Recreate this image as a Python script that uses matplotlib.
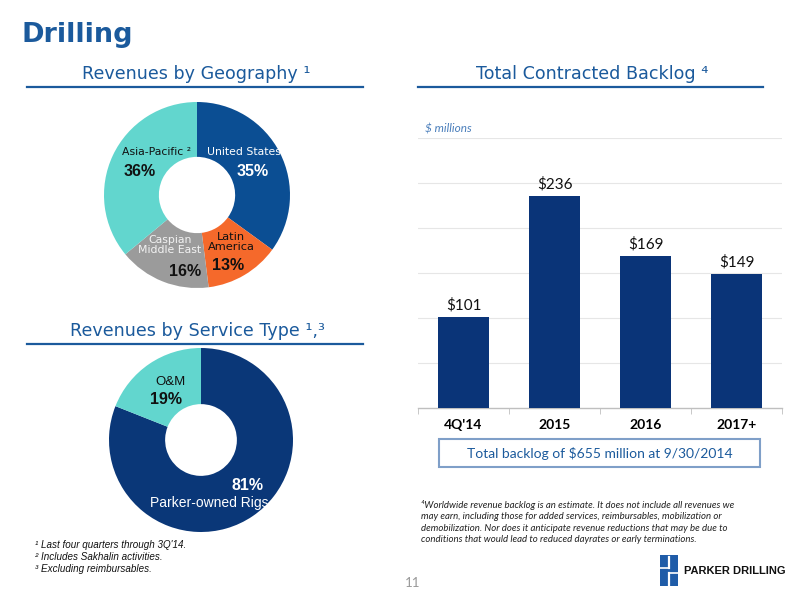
import numpy as np
import matplotlib
matplotlib.use("Agg")
import matplotlib.pyplot as plt
from matplotlib.lines import Line2D
from matplotlib.patches import Rectangle

# --- data ---
geo_labels = ["United States", "Latin America", "Caspian Middle East", "Asia-Pacific"]
geo_values = [35, 13, 16, 36]
geo_colors = ["#0B4E93", "#F5692B", "#9B9B9B", "#62D6CE"]

service_labels = ["Parker-owned Rigs", "O&M"]
service_values = [81, 19]
service_colors = ["#0A3778", "#62D6CE"]

backlog_periods = ["4Q'14", "2015", "2016", "2017+"]
backlog_values = [101, 236, 169, 149]

W, H = 800, 600
BLUE = "#1B5A9C"


def fx(x):
    return x / W


def fy(y):
    return 1 - y / H


def px_axes(fig, left, top, right, bottom):
    return fig.add_axes([fx(left), fy(bottom), (right - left) / W, (bottom - top) / H])


def ftext(fig, x, y, s, **kw):
    kw.setdefault("ha", "center")
    kw.setdefault("va", "center")
    return fig.text(fx(x), fy(y), s, **kw)


def hline(fig, x0, x1, y, color=BLUE, lw=1.6):
    fig.add_artist(Line2D([fx(x0), fx(x1)], [fy(y), fy(y)], color=color, lw=lw,
                          transform=fig.transFigure))


fig = plt.figure(figsize=(8, 6), dpi=100)

# --- headings ---
ftext(fig, 22, 35, "Drilling", ha="left", fontsize=19.5, fontweight="bold", color=BLUE,
      family="DejaVu Sans")
ftext(fig, 196, 74, "Revenues by Geography \u00b9", fontsize=12.6, color=BLUE)
hline(fig, 27, 363, 87)
ftext(fig, 592, 74, "Total Contracted Backlog \u2074", fontsize=12.6, color=BLUE)
hline(fig, 418, 763, 87)
ftext(fig, 197, 331, "Revenues by Service Type \u00b9,\u00b3", fontsize=12.6, color=BLUE)
hline(fig, 27, 363, 344)

# --- geography donut ---
ax1 = px_axes(fig, 104, 102, 290, 288)
ax1.pie(geo_values, colors=geo_colors, startangle=90, counterclock=False, radius=1,
        wedgeprops=dict(width=0.59, edgecolor="none"))
ax1.set_xlim(-1, 1)
ax1.set_ylim(-1, 1)
ax1.set_aspect("equal")
ax1.axis("off")

name_kw = dict(fontsize=7.8, family="DejaVu Sans")
pct_kw = dict(fontsize=11.5, fontweight="bold", family="Liberation Sans")
ftext(fig, 244, 152, "United States", color="white", **name_kw)
ftext(fig, 253, 172, "35%", color="white", **pct_kw)
ftext(fig, 157, 152, "Asia-Pacific \u00b2", color="#111111", **name_kw)
ftext(fig, 140, 172, "36%", color="#111111", **pct_kw)
ftext(fig, 231, 242, "Latin\nAmerica", color="#111111", linespacing=1.1,
      fontsize=8.2, family="DejaVu Sans")
ftext(fig, 228, 266, f"{geo_values[1]}%", color="#111111", **pct_kw)
ftext(fig, 170, 245, "Caspian\nMiddle East", color="#F2F2F2", linespacing=1.1, **name_kw)
ftext(fig, 185, 272, f"{geo_values[2]}%", color="#111111", **pct_kw)

# --- service donut ---
ax2 = px_axes(fig, 109, 348, 293, 532)
ax2.pie(service_values, colors=service_colors, startangle=90, counterclock=False, radius=1,
        wedgeprops=dict(width=0.61, edgecolor="none"))
ax2.set_xlim(-1, 1)
ax2.set_ylim(-1, 1)
ax2.set_aspect("equal")
ax2.axis("off")

ftext(fig, 170, 382, "O&M", color="#111111", fontsize=9.5, family="Liberation Sans")
ftext(fig, 166, 400, f"{service_values[1]}%", color="#111111", **pct_kw)
ftext(fig, 248, 486, f"{service_values[0]}%", color="white", **pct_kw)
ftext(fig, 209, 503, "Parker-owned Rigs", color="white", fontsize=10, family="Liberation Sans")

# --- backlog bar chart ---
ax3 = px_axes(fig, 418, 138, 782, 408)
x = np.arange(len(backlog_periods))
bars = ax3.bar(x, backlog_values, width=0.55, color="#0A3478", zorder=3)
ax3.set_xlim(-0.5, len(backlog_periods) - 0.5)
ax3.set_ylim(0, 300)
ax3.set_yticks(np.arange(50, 301, 50))
ax3.yaxis.grid(True, color="#E6E6E6", lw=0.8, zorder=0)
ax3.tick_params(axis="y", left=False, labelleft=False)
for s in ["top", "right", "left"]:
    ax3.spines[s].set_visible(False)
ax3.spines["bottom"].set_color("#BFBFBF")
ax3.spines["bottom"].set_linewidth(1.0)
ax3.set_xticks(x)
ax3.set_xticklabels(backlog_periods, fontsize=10, fontweight="bold", family="Lato")
ax3.set_xticks(np.arange(-0.5, len(backlog_periods)), minor=True)
ax3.tick_params(axis="x", which="major", length=0, pad=8)
ax3.tick_params(axis="x", which="minor", length=4, color="#BFBFBF", direction="out")
for b, v in zip(bars, backlog_values):
    ax3.annotate(f"${v}", (b.get_x() + b.get_width() / 2, v), xytext=(0, 3),
                 textcoords="offset points", ha="center", va="bottom",
                 fontsize=11, family="Lato", color="#111111")

ftext(fig, 425, 129, "$ millions", ha="left", fontsize=8.5, style="italic",
      color="#4A7EBB", family="Lato")

fig.add_artist(Rectangle((fx(439), fy(467)), (760 - 439) / W, (467 - 439) / H,
                         transform=fig.transFigure, fill=False, edgecolor="#7F9FC8", lw=1.5))
ftext(fig, 600, 453, "Total backlog of $655 million at 9/30/2014", fontsize=10,
      color=BLUE, family="Lato")

ftext(fig, 421, 522,
      "\u2074Worldwide revenue backlog is an estimate. It does not include all revenues we\n"
      "may earn, including those for added services, reimbursables, mobilization or\n"
      "demobilization. Nor does it anticipate revenue reductions that may be due to\n"
      "conditions that would lead to reduced dayrates or early terminations.",
      ha="left", fontsize=6.9, style="italic", family=["Lato", "DejaVu Sans"],
      color="#222222", linespacing=1.38)

# --- left footnotes ---
ftext(fig, 35, 557,
      "\u00b9 Last four quarters through 3Q'14.\n"
      "\u00b2 Includes Sakhalin activities.\n"
      "\u00b3 Excluding reimbursables.",
      ha="left", fontsize=7.1, style="italic", family="Liberation Sans",
      color="#111111", linespacing=1.25)

# --- page number and logo ---
ftext(fig, 405, 583, "11", ha="left", fontsize=9.5, color="#999999", family="Lato")
fig.add_artist(Rectangle((fx(660), fy(586)), 18 / W, 31 / H, transform=fig.transFigure,
                         facecolor="#1F5CA8", edgecolor="none"))
fig.add_artist(Line2D([fx(669), fx(669)], [fy(557), fy(568)], color="white", lw=1.6,
                      transform=fig.transFigure))
fig.add_artist(Line2D([fx(660), fx(669)], [fy(568), fy(568)], color="white", lw=1.2,
                      transform=fig.transFigure))
fig.add_artist(Line2D([fx(669), fx(678)], [fy(573), fy(573)], color="white", lw=1.2,
                      transform=fig.transFigure))
fig.add_artist(Line2D([fx(669), fx(669)], [fy(573), fy(585)], color="white", lw=1.6,
                      transform=fig.transFigure))
ftext(fig, 684, 571, "PARKER DRILLING", ha="left", fontsize=8, fontweight="heavy",
      family="Liberation Sans", color="#111111")

fig.savefig("out.png", dpi=100)
